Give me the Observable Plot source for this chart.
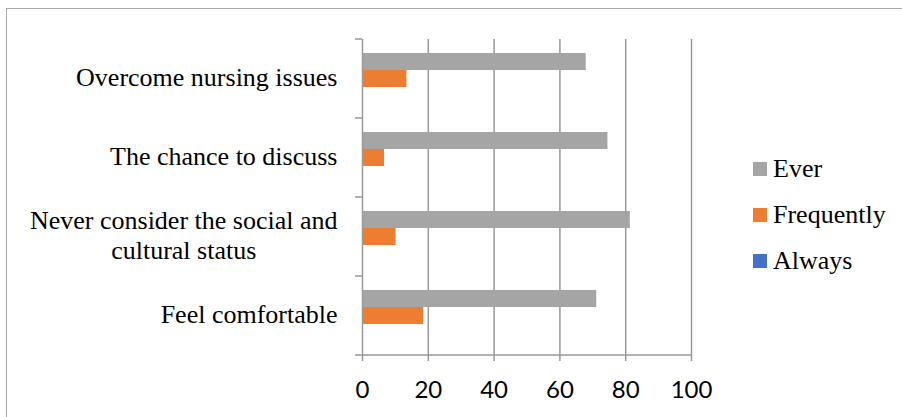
<!DOCTYPE html>
<html>
<head>
<meta charset="utf-8">
<script src="https://cdn.jsdelivr.net/npm/d3@7"></script>
<script src="https://cdn.jsdelivr.net/npm/@observablehq/plot@0.6"></script>
<style>
  html, body { margin: 0; padding: 0; background: #fff; }
  #chart { position: relative; width: 902px; height: 417px; overflow: hidden; }
  #chart svg { position: absolute; left: 0; top: 0; }
  #border {
    position: absolute; left: 6px; top: 8px; width: 1200px; height: 1200px;
    border-top: 1.5px solid #a9a9a9; border-left: 1.5px solid #a9a9a9;
  }
  #legend { position: absolute; left: 753px; top: 146px; font-family: "Liberation Serif", "Times New Roman", serif; font-size: 26px; color: #000; }
  #legend .row { display: flex; align-items: center; height: 46px; }
  #legend .sw { width: 14px; height: 14px; margin-right: 6px; }
</style>
</head>
<body>
<div id="chart"><div id="border"></div></div>
<script>
// Survey categories, top to bottom
const categories = [
  "Overcome nursing issues",
  "The chance to discuss",
  "Never consider the social and\ncultural status",
  "Feel comfortable"
];
// Response series and their colours
const series = ["Ever", "Frequently", "Always"];
const seriesColors = ["#a5a5a5", "#ed7d31", "#4472c4"];
// Percent of respondents per category
const ever = [68.0, 74.6, 81.4, 71.2];
const frequently = [13.5, 6.7, 10.2, 18.6];
const always = [0, 0, 0, 0];
// Value axis ticks
const xTicks = [0, 20, 40, 60, 80, 100];

const values = {Ever: ever, Frequently: frequently, Always: always};
const rows = categories.flatMap((category, i) =>
  series.map((s) => ({category, series: s, value: values[s][i]}))
);

const axisColor = "#999999";

const plot = Plot.plot({
  width: 902,
  height: 417,
  marginLeft: 362,
  marginRight: 211,
  marginTop: 37,
  marginBottom: 61,
  style: {background: "transparent", overflow: "visible"},
  x: {domain: [0, 100], axis: null},
  y: {domain: series, paddingInner: 0, paddingOuter: 0.78, axis: null},
  fy: {domain: categories, padding: 0, axis: null},
  color: {domain: series, range: seriesColors},
  marks: [
    Plot.ruleX(xTicks.slice(1), {stroke: axisColor, strokeWidth: 1.5, strokeOpacity: 1}),
    Plot.barX(rows, {fy: "category", y: "series", x: "value", fill: "series"}),
    Plot.ruleX([0], {stroke: axisColor, strokeWidth: 1.5, strokeOpacity: 1}),
    Plot.axisFy({
      anchor: "left",
      label: null,
      tickSize: 0,
      tickPadding: 25,
      dy: -2.5,
      fontSize: 26,
      fontFamily: "Liberation Serif",
      lineHeight: 1.15,
      fill: "#000"
    }),
    Plot.axisX({
      ticks: xTicks,
      label: null,
      tickSize: 6,
      tickPadding: 19,
      stroke: axisColor,
      strokeWidth: 1.5,
      strokeOpacity: 1,
      fontSize: 24,
      fontFamily: "Lato",
      fill: "#000"
    })
  ]
});

// Axis baseline and category separator ticks, placed from the plot's scales
const fy = plot.scale("fy");
const xs = plot.scale("x");
const x0 = xs.apply(0);
const x1 = xs.apply(100);
const bounds = categories.map((c) => fy.apply(c));
bounds.push(fy.apply(categories[categories.length - 1]) + fy.bandwidth);
const g = d3.select(plot).append("g").attr("stroke", axisColor).attr("stroke-width", 1.5);
g.selectAll("line.sep").data(bounds).join("line")
  .attr("x1", x0 - 7).attr("x2", x0).attr("y1", (d) => d).attr("y2", (d) => d);
g.append("line")
  .attr("x1", x0).attr("x2", x1)
  .attr("y1", bounds[bounds.length - 1]).attr("y2", bounds[bounds.length - 1]);

document.getElementById("chart").appendChild(plot);

// Wrapped category labels: keep the block right-aligned, centre its lines
d3.select(plot).selectAll("text").each(function () {
  const spans = this.querySelectorAll("tspan");
  if (spans.length < 2) return;
  const w = d3.max(Array.from(spans), (s) => s.getComputedTextLength());
  const t = this.getAttribute("transform") || "";
  this.setAttribute("text-anchor", "middle");
  this.setAttribute("transform", `${t} translate(${-w / 2},0)`);
});

// Legend
const legend = d3.select("#chart").append("div").attr("id", "legend");
const row = legend.selectAll("div.row").data(series).join("div").attr("class", "row");
row.append("div").attr("class", "sw").style("background", (d, i) => seriesColors[i]);
row.append("span").text((d) => d);
</script>
</body>
</html>
